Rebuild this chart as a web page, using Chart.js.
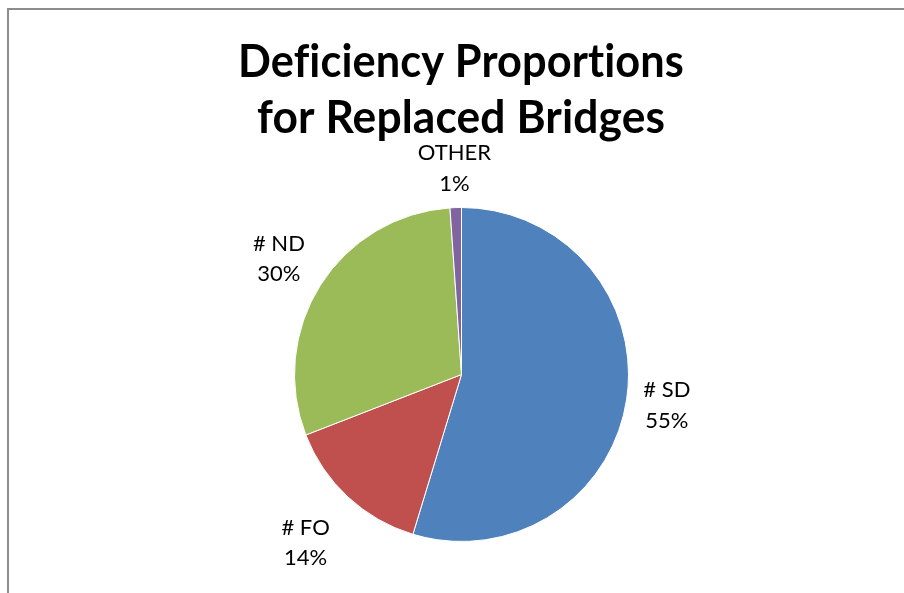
<!DOCTYPE html>
<html><head><meta charset="utf-8">
<script src="https://cdn.jsdelivr.net/npm/chart.js@4/dist/chart.umd.min.js"></script>
<style>
html,body{margin:0;padding:0;background:#fff;overflow:hidden;width:904px;height:593px}
#frame{position:absolute;left:7px;top:8px;width:1000px;height:700px;border-left:2px solid #8c8c8c;border-top:2px solid #8c8c8c}
#wrap{position:absolute;left:0;top:0;width:904px;height:593px}
</style></head><body>
<div id="frame"></div>
<div id="wrap"><canvas id="c" width="904" height="593"></canvas></div>
<script>
// ---- data ----
const titleLines = ["Deficiency Proportions", "for Replaced Bridges"];
const categories = ["# SD", "# FO", "# ND", "OTHER"];
const values = [54.7, 14.4, 29.8, 1.1];

// ---- style ----
const colors = ["#4F81BD", "#C0504D", "#9BBB59", "#8064A2"];
const labelGap = [14, 29, 15, 15];

const total = values.reduce((a, b) => a + b, 0);
const percentLabels = values.map(v => Math.round(v / total * 100) + "%");

const titlePlugin = {
  id: 'titleText',
  afterDraw(chart) {
    const ctx = chart.ctx;
    ctx.save();
    ctx.fillStyle = '#000';
    ctx.textBaseline = 'alphabetic';
    ctx.textAlign = 'center';
    ctx.font = 'bold 45px Lato';
    try { ctx.letterSpacing = '0.1px'; } catch (e) {}
    const specs = [{ y: 77, w: 446 }, { y: 133, w: 408 }];
    titleLines.forEach((t, i) => {
      const m = ctx.measureText(t).width;
      ctx.save();
      ctx.translate(461, specs[i].y);
      ctx.scale(specs[i].w / m, 1);
      ctx.fillText(t, 0, 0);
      ctx.restore();
    });
    ctx.restore();
  }
};

const labelPlugin = {
  id: 'outLabels',
  afterDraw(chart) {
    const ctx = chart.ctx;
    const meta = chart.getDatasetMeta(0);
    const sx = 1.0;
    ctx.save();
    ctx.fillStyle = '#000';
    ctx.font = '22px Lato';
    ctx.textAlign = 'center';
    ctx.textBaseline = 'alphabetic';
    meta.data.forEach((arc, i) => {
      const p = arc.getProps(['x', 'y', 'startAngle', 'endAngle', 'outerRadius'], true);
      const mid = (p.startAngle + p.endAngle) / 2;
      const dx = Math.cos(mid), dy = Math.sin(mid);
      const lines = [categories[i], percentLabels[i]];
      const w = Math.max(...lines.map(l => ctx.measureText(l).width)) * sx;
      const hh = 23;
      const ext = Math.abs(dx) * w / 2 + Math.abs(dy) * hh;
      const d = p.outerRadius + labelGap[i] + ext;
      const cx = p.x + dx * d, cy = p.y + dy * d;
      lines.forEach((l, k) => {
        ctx.save();
        ctx.translate(cx, cy - 8 + k * 30.5);
        ctx.scale(sx, 1);
        ctx.fillText(l, 0, 0);
        ctx.restore();
      });
    });
    ctx.restore();
  }
};

new Chart(document.getElementById('c'), {
  type: 'pie',
  data: {
    labels: categories,
    datasets: [{
      data: values,
      backgroundColor: colors,
      borderColor: '#ffffff',
      borderWidth: 1
    }]
  },
  options: {
    responsive: false,
    animation: false,
    devicePixelRatio: 1,
    layout: { padding: { left: 294, right: 275, top: 207, bottom: 51 } },
    plugins: {
      legend: { display: false },
      tooltip: { enabled: false },
      title: { display: false }
    }
  },
  plugins: [titlePlugin, labelPlugin]
});
</script>
</body></html>
